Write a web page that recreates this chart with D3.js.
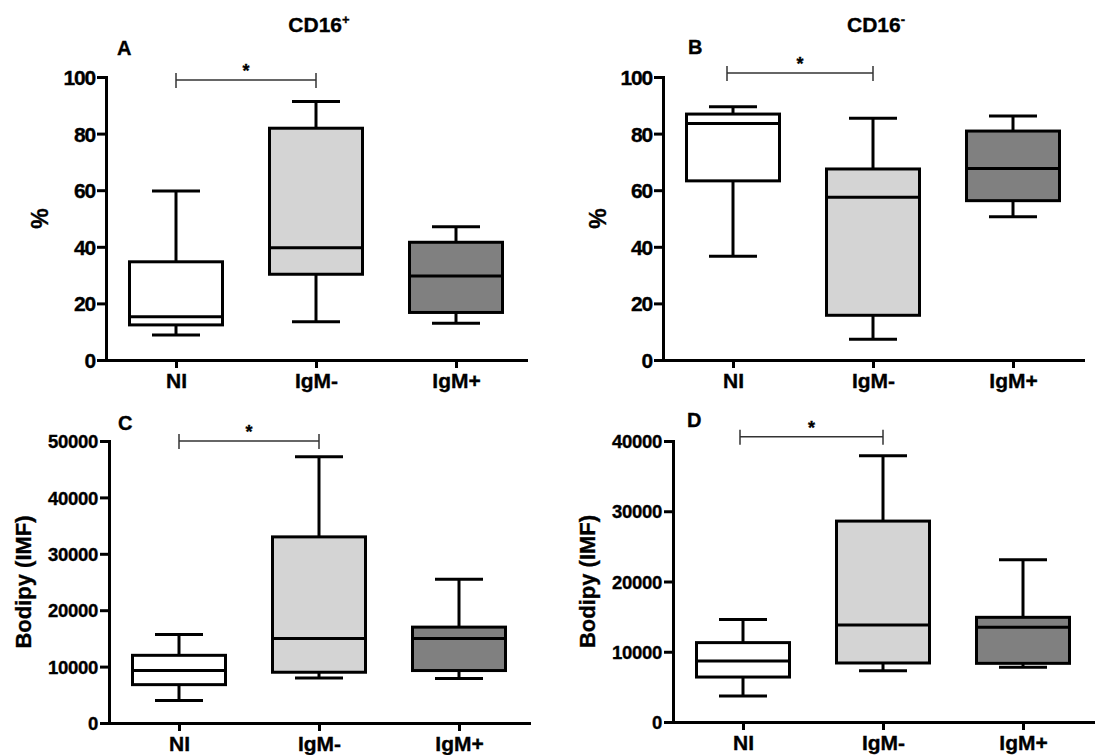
<!DOCTYPE html>
<html>
<head>
<meta charset="utf-8">
<script src="https://cdn.jsdelivr.net/npm/d3@7"></script>
<style>
  body { margin: 0; background: #fff; }
  svg { display: block; font-family: "Liberation Sans", Arial, sans-serif; font-weight: bold; }
  svg text { stroke: #000; stroke-width: 0.35px; }
</style>
</head>
<body>
<svg id="chart" width="1096" height="755"></svg>
<script>
// groups on the x axis
const groups = ["NI", "IgM-", "IgM+"];
const groupFills = ["#ffffff", "#d4d4d4", "#808080"];

// five-number summaries per group: [min, q1, median, q3, max]
const cd16PosPct = [[8.8, 12.4, 15.3, 34.7, 59.7], [13.5, 30.3, 39.7, 81.9, 91.3], [13.0, 16.8, 29.7, 41.6, 47.1]];
const cd16NegPct = [[36.7, 63.3, 83.6, 86.9, 89.5], [7.3, 15.8, 57.5, 67.5, 85.4], [50.6, 56.3, 67.7, 80.9, 86.2]];
const cd16PosBodipy = [[4000, 6800, 9300, 12000, 15700], [8000, 9000, 15000, 33000, 47200], [7900, 9300, 15000, 17000, 25500]];
const cd16NegBodipy = [[3700, 6400, 8700, 11300, 14600], [7300, 8400, 13800, 28600, 37900], [7800, 8350, 13500, 14900, 23100]];

// tick values
const pctTicks = [0, 20, 40, 60, 80, 100];
const bodipyTicksC = [0, 10000, 20000, 30000, 40000, 50000];
const bodipyTicksD = [0, 10000, 20000, 30000, 40000];

const svg = d3.select("#chart");

const panels = [
  {letter: "A", title: "CD16", sup: "+", data: cd16PosPct, ticks: pctTicks, max: 100, ylabel: "%", bracket: 98.9,
   x0: 106, x1: 526, y0: 360, y1: 77, labelX: 40, letterX: 117, letterY: 55, tickFont: 21, tickSpacing: -1.2, brShift: 0},
  {letter: "B", title: "CD16", sup: "-", data: cd16NegPct, ticks: pctTicks, max: 100, ylabel: "%", bracket: 101.4,
   x0: 663, x1: 1083, y0: 360, y1: 77, labelX: 598, letterX: 688, letterY: 54, tickFont: 21, tickSpacing: -1.2, brShift: -6},
  {letter: "C", data: cd16PosBodipy, ticks: bodipyTicksC, max: 50000, ylabel: "Bodipy (IMF)", bracket: 50000,
   x0: 109, x1: 529, y0: 723, y1: 441, labelX: 23, letterX: 118, letterY: 430, tickFont: 18.5, tickSpacing: -0.3, brShift: 0},
  {letter: "D", data: cd16NegBodipy, ticks: bodipyTicksD, max: 40000, ylabel: "Bodipy (IMF)", bracket: 40600,
   x0: 673, x1: 1093, y0: 722, y1: 441, labelX: 587, letterX: 687, letterY: 427, tickFont: 18.5, tickSpacing: -0.3, brShift: -3}
];

panels.forEach(drawPanel);

function drawPanel(p) {
  const g = svg.append("g");
  const x = d3.scalePoint().domain(groups).range([p.x0, p.x1]).padding(0.5);
  const y = d3.scaleLinear().domain([0, p.max]).range([p.y0, p.y1]);
  const boxW = 93, capW = 48;

  // boxes
  const box = g.selectAll("g.box")
    .data(p.data)
    .join("g")
      .attr("class", "box")
      .attr("stroke", "#000")
      .attr("stroke-width", 3);

  box.append("line")
      .attr("x1", (d, i) => x(groups[i]))
      .attr("x2", (d, i) => x(groups[i]))
      .attr("y1", d => y(d[4]))
      .attr("y2", d => y(d[0]));
  box.append("line")
      .attr("x1", (d, i) => x(groups[i]) - capW / 2)
      .attr("x2", (d, i) => x(groups[i]) + capW / 2)
      .attr("y1", d => y(d[4]))
      .attr("y2", d => y(d[4]));
  box.append("line")
      .attr("x1", (d, i) => x(groups[i]) - capW / 2)
      .attr("x2", (d, i) => x(groups[i]) + capW / 2)
      .attr("y1", d => y(d[0]))
      .attr("y2", d => y(d[0]));
  box.append("rect")
      .attr("x", (d, i) => x(groups[i]) - boxW / 2)
      .attr("width", boxW)
      .attr("y", d => y(d[3]))
      .attr("height", d => y(d[1]) - y(d[3]))
      .attr("fill", (d, i) => groupFills[i]);
  box.append("line")
      .attr("x1", (d, i) => x(groups[i]) - boxW / 2)
      .attr("x2", (d, i) => x(groups[i]) + boxW / 2)
      .attr("y1", d => y(d[2]))
      .attr("y2", d => y(d[2]));

  // axes
  const yAxis = g.append("g")
      .attr("transform", `translate(${p.x0},0)`)
      .call(d3.axisLeft(y).tickValues(p.ticks).tickFormat(d3.format("d")).tickSize(9).tickSizeOuter(0).tickPadding(2));
  const xAxis = g.append("g")
      .attr("transform", `translate(0,${p.y0})`)
      .call(d3.axisBottom(x).tickSize(8).tickSizeOuter(0).tickPadding(5));

  [yAxis, xAxis].forEach(a => {
    a.selectAll("path, line").attr("stroke", "#000").attr("stroke-width", 3);
    a.select(".domain").attr("stroke-linecap", "square");
  });
  yAxis.selectAll("text").attr("fill", "#000")
      .style("font-size", p.tickFont + "px")
      .style("letter-spacing", p.tickSpacing + "px")
      .attr("dy", "0.36em");
  xAxis.selectAll("text").attr("fill", "#000").style("font-size", "21px");

  // y label
  g.append("text")
      .attr("transform", `translate(${p.labelX},${(p.y0 + p.y1) / 2}) rotate(-90)`)
      .attr("text-anchor", "middle")
      .attr("dy", "0.35em")
      .style("font-size", p.ylabel === "%" ? "23px" : "22px")
      .text(p.ylabel);

  // panel letter
  g.append("text")
      .attr("x", p.letterX)
      .attr("y", p.letterY)
      .style("font-size", "20px")
      .text(p.letter);

  // title
  if (p.title) {
    const t = g.append("text")
        .attr("x", (p.x0 + p.x1) / 2 + 3)
        .attr("y", 32)
        .attr("text-anchor", "middle")
        .style("font-size", "21px");
    t.append("tspan").text(p.title);
    t.append("tspan").attr("dy", -8).style("font-size", "13px").text(p.sup);
  }

  // significance bracket NI vs IgM-
  const bx1 = x(groups[0]) + p.brShift, bx2 = x(groups[1]), by = y(p.bracket);
  const br = g.append("g").attr("stroke", "#333").attr("stroke-width", 1.5);
  br.append("line").attr("x1", bx1).attr("x2", bx2).attr("y1", by).attr("y2", by);
  br.append("line").attr("x1", bx1).attr("x2", bx1).attr("y1", by - 7).attr("y2", by + 8);
  br.append("line").attr("x1", bx2).attr("x2", bx2).attr("y1", by - 7).attr("y2", by + 8);
  g.append("text")
      .attr("x", (bx1 + bx2) / 2)
      .attr("y", by - 3)
      .attr("text-anchor", "middle")
      .style("font-size", "18px")
      .text("*");
}
</script>
</body>
</html>
